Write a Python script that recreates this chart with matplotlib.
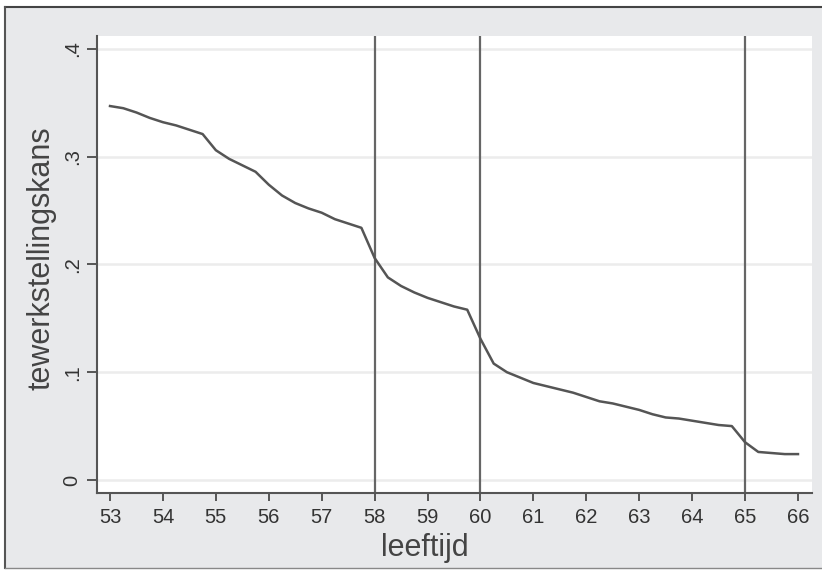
import numpy as np
import matplotlib
matplotlib.use("Agg")
import matplotlib.pyplot as plt
from matplotlib.patches import Rectangle
from matplotlib.lines import Line2D

plt.rcParams['font.family'] = ['Liberation Sans', 'DejaVu Sans']

# --- Data (quarterly ages) ---
leeftijd = [53.00, 53.25, 53.50, 53.75, 54.00, 54.25, 54.50, 54.75,
            55.00, 55.25, 55.50, 55.75, 56.00, 56.25, 56.50, 56.75,
            57.00, 57.25, 57.50, 57.75, 58.00, 58.25, 58.50, 58.75,
            59.00, 59.25, 59.50, 59.75, 60.00, 60.25, 60.50, 60.75,
            61.00, 61.25, 61.50, 61.75, 62.00, 62.25, 62.50, 62.75,
            63.00, 63.25, 63.50, 63.75, 64.00, 64.25, 64.50, 64.75,
            65.00, 65.25, 65.50, 65.75, 66.00]
kans = [0.347, 0.345, 0.341, 0.336, 0.332, 0.329, 0.325, 0.321,
        0.306, 0.298, 0.292, 0.286, 0.274, 0.264, 0.257, 0.252,
        0.248, 0.242, 0.238, 0.234, 0.206, 0.188, 0.180, 0.174,
        0.169, 0.165, 0.161, 0.158, 0.131, 0.108, 0.100, 0.095,
        0.090, 0.087, 0.084, 0.081, 0.077, 0.073, 0.071, 0.068,
        0.065, 0.061, 0.058, 0.057, 0.055, 0.053, 0.051, 0.050,
        0.035, 0.026, 0.025, 0.024, 0.024]
vlines = [58, 60, 65]
xticks = list(range(53, 67))
yticks = [0, 0.1, 0.2, 0.3, 0.4]
yticklabels = ["0", ".1", ".2", ".3", ".4"]

W, H = 822, 570
fig = plt.figure(figsize=(W / 100, H / 100), dpi=100)
fig.patch.set_facecolor("white")

# Stata-like gray background with a frame on top/left/bottom
fig.patches.append(Rectangle((5 / W, 2 / H), 1, (H - 9) / H, transform=fig.transFigure,
                             facecolor="#e8e9eb", edgecolor="none", zorder=-10))
fig.lines.append(Line2D([5 / W, 1], [1 - 7 / H, 1 - 7 / H], transform=fig.transFigure,
                        color="#444444", lw=1.5, zorder=-5))
fig.lines.append(Line2D([5 / W, 5 / W], [2 / H, 1 - 7 / H], transform=fig.transFigure,
                        color="#555555", lw=1.5, zorder=-5))
fig.lines.append(Line2D([5 / W, 1], [2 / H, 2 / H], transform=fig.transFigure,
                        color="#888888", lw=1.0, zorder=-5))

ax = fig.add_axes([97 / W, (H - 493) / H, (812 - 97) / W, (493 - 36) / H])
ax.set_facecolor("white")

# grid
for yv in yticks:
    ax.axhline(yv, color="#ececec", lw=1.8, zorder=1)

# vertical reference lines
for xv in vlines:
    ax.axvline(xv, color="#666666", lw=1.6, zorder=2)

ax.plot(leeftijd, kans, color="#555555", lw=1.8, zorder=3)

ax.set_xlim(52.754, 66.265)
ax.set_ylim(-0.0121, 0.412)

ax.set_xticks(xticks)
ax.set_xticklabels([str(t) for t in xticks])
ax.set_yticks(yticks)
ax.set_yticklabels(yticklabels, rotation=90, va="center")

for side in ["top", "right"]:
    ax.spines[side].set_visible(False)
for side in ["left", "bottom"]:
    ax.spines[side].set_color("#555555")
    ax.spines[side].set_linewidth(1.5)

ax.tick_params(axis="x", length=6, width=1.4, color="#555555", pad=5,
               labelsize=14.5, labelcolor="#333333")
ax.tick_params(axis="y", length=7, width=1.4, color="#555555", pad=4,
               labelsize=14.5, labelcolor="#333333")

ax.set_xlabel("leeftijd", fontsize=22, color="#444444")
ax.xaxis.set_label_coords(0.459, -0.12)
ax.xaxis.label.set_va("center")
ax.set_ylabel("tewerkstellingskans", fontsize=22, color="#444444")
ax.yaxis.set_label_coords(-0.078, 0.513)
ax.yaxis.label.set_va("center")

fig.savefig("out.png", dpi=100)
